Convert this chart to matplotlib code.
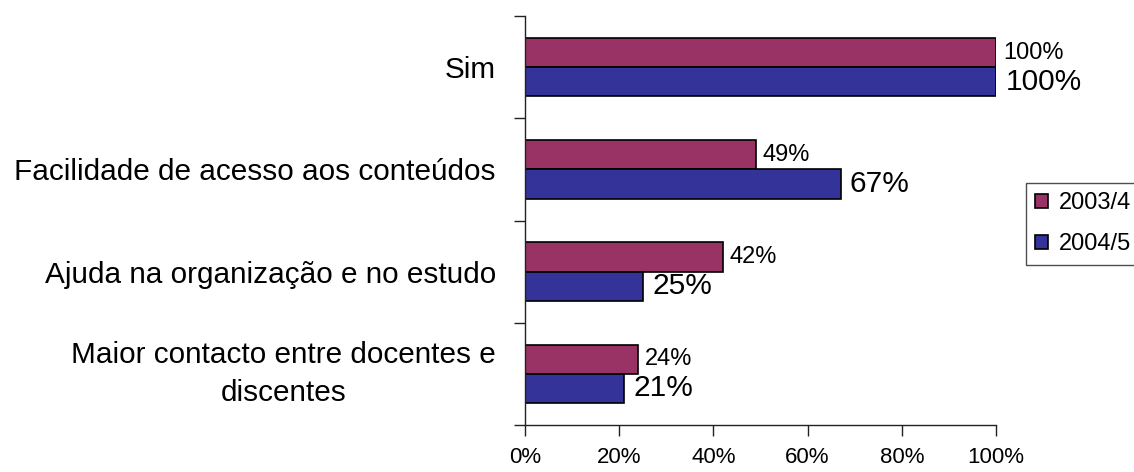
import matplotlib
matplotlib.use("Agg")
import matplotlib.pyplot as plt
import numpy as np
from matplotlib.ticker import FixedLocator, PercentFormatter

plt.rcParams['font.family'] = ['Liberation Sans', 'DejaVu Sans']

categories = [
    "Sim",
    "Facilidade de acesso aos conteúdos",
    "Ajuda na organização e no estudo",
    "Maior contacto entre docentes e\ndiscentes",
]
series_names = ["2003/4", "2004/5"]
values_2003 = [100, 49, 42, 24]
values_2004 = [100, 67, 25, 21]
x_ticks = [0, 20, 40, 60, 80, 100]

colors = ["#993366", "#333399"]

W, H = 1134, 472
fig = plt.figure(figsize=(W / 100, H / 100), dpi=100)
ax = fig.add_axes([525 / W, 1 - 425 / H, (996 - 525) / W, (425 - 16) / H])

y = np.arange(len(categories))
bh = 0.285
b1 = ax.barh(y - bh / 2, values_2003, height=bh, color=colors[0],
             edgecolor="black", linewidth=1.2, label=series_names[0])
b2 = ax.barh(y + bh / 2, values_2004, height=bh, color=colors[1],
             edgecolor="black", linewidth=1.2, label=series_names[1])

for yi, v in zip(y, values_2003):
    ax.text(v + 1.5, yi - bh / 2, f"{v}%", va="center", ha="left", fontsize=17)
for yi, v in zip(y, values_2004):
    ax.text(v + 2.0, yi + bh / 2, f"{v}%", va="center", ha="left", fontsize=21.5)

ax.set_xlim(0, 100)
ax.set_ylim(len(categories) - 0.5, -0.5)

ax.set_xticks(x_ticks)
ax.xaxis.set_major_formatter(PercentFormatter(decimals=0))
ax.tick_params(axis="x", direction="out", length=8, width=1, colors="#222222",
               labelsize=16, labelcolor="black", pad=8)

ax.set_yticks(y)
ax.set_yticklabels(categories)
ax.yaxis.set_minor_locator(FixedLocator(np.arange(-0.5, len(categories), 1.0)))
ax.tick_params(axis="y", which="major", length=0, labelsize=21.4, pad=21)
ax.tick_params(axis="y", which="minor", direction="out", length=8, width=1, colors="#222222")
for lbl in ax.get_yticklabels():
    lbl.set_multialignment("center")
    lbl.set_linespacing(1.45)
    if "\n" in lbl.get_text():
        lbl.set_verticalalignment("center")

for s in ["top", "right"]:
    ax.spines[s].set_visible(False)
for s in ["left", "bottom"]:
    ax.spines[s].set_color("#222222")
    ax.spines[s].set_linewidth(1)

leg = fig.legend(handles=[b1, b2], labels=series_names, loc="upper left",
                 bbox_to_anchor=(1026 / W, 1 - 183 / H), bbox_transform=fig.transFigure,
                 borderaxespad=0, fancybox=False, frameon=True, fontsize=17,
                 handlelength=0.55, handleheight=0.55, handletextpad=0.45,
                 labelspacing=0.8, borderpad=0.4)
leg.get_frame().set_edgecolor("#222222")
leg.get_frame().set_linewidth(1)

fig.savefig("out.png", dpi=100)
